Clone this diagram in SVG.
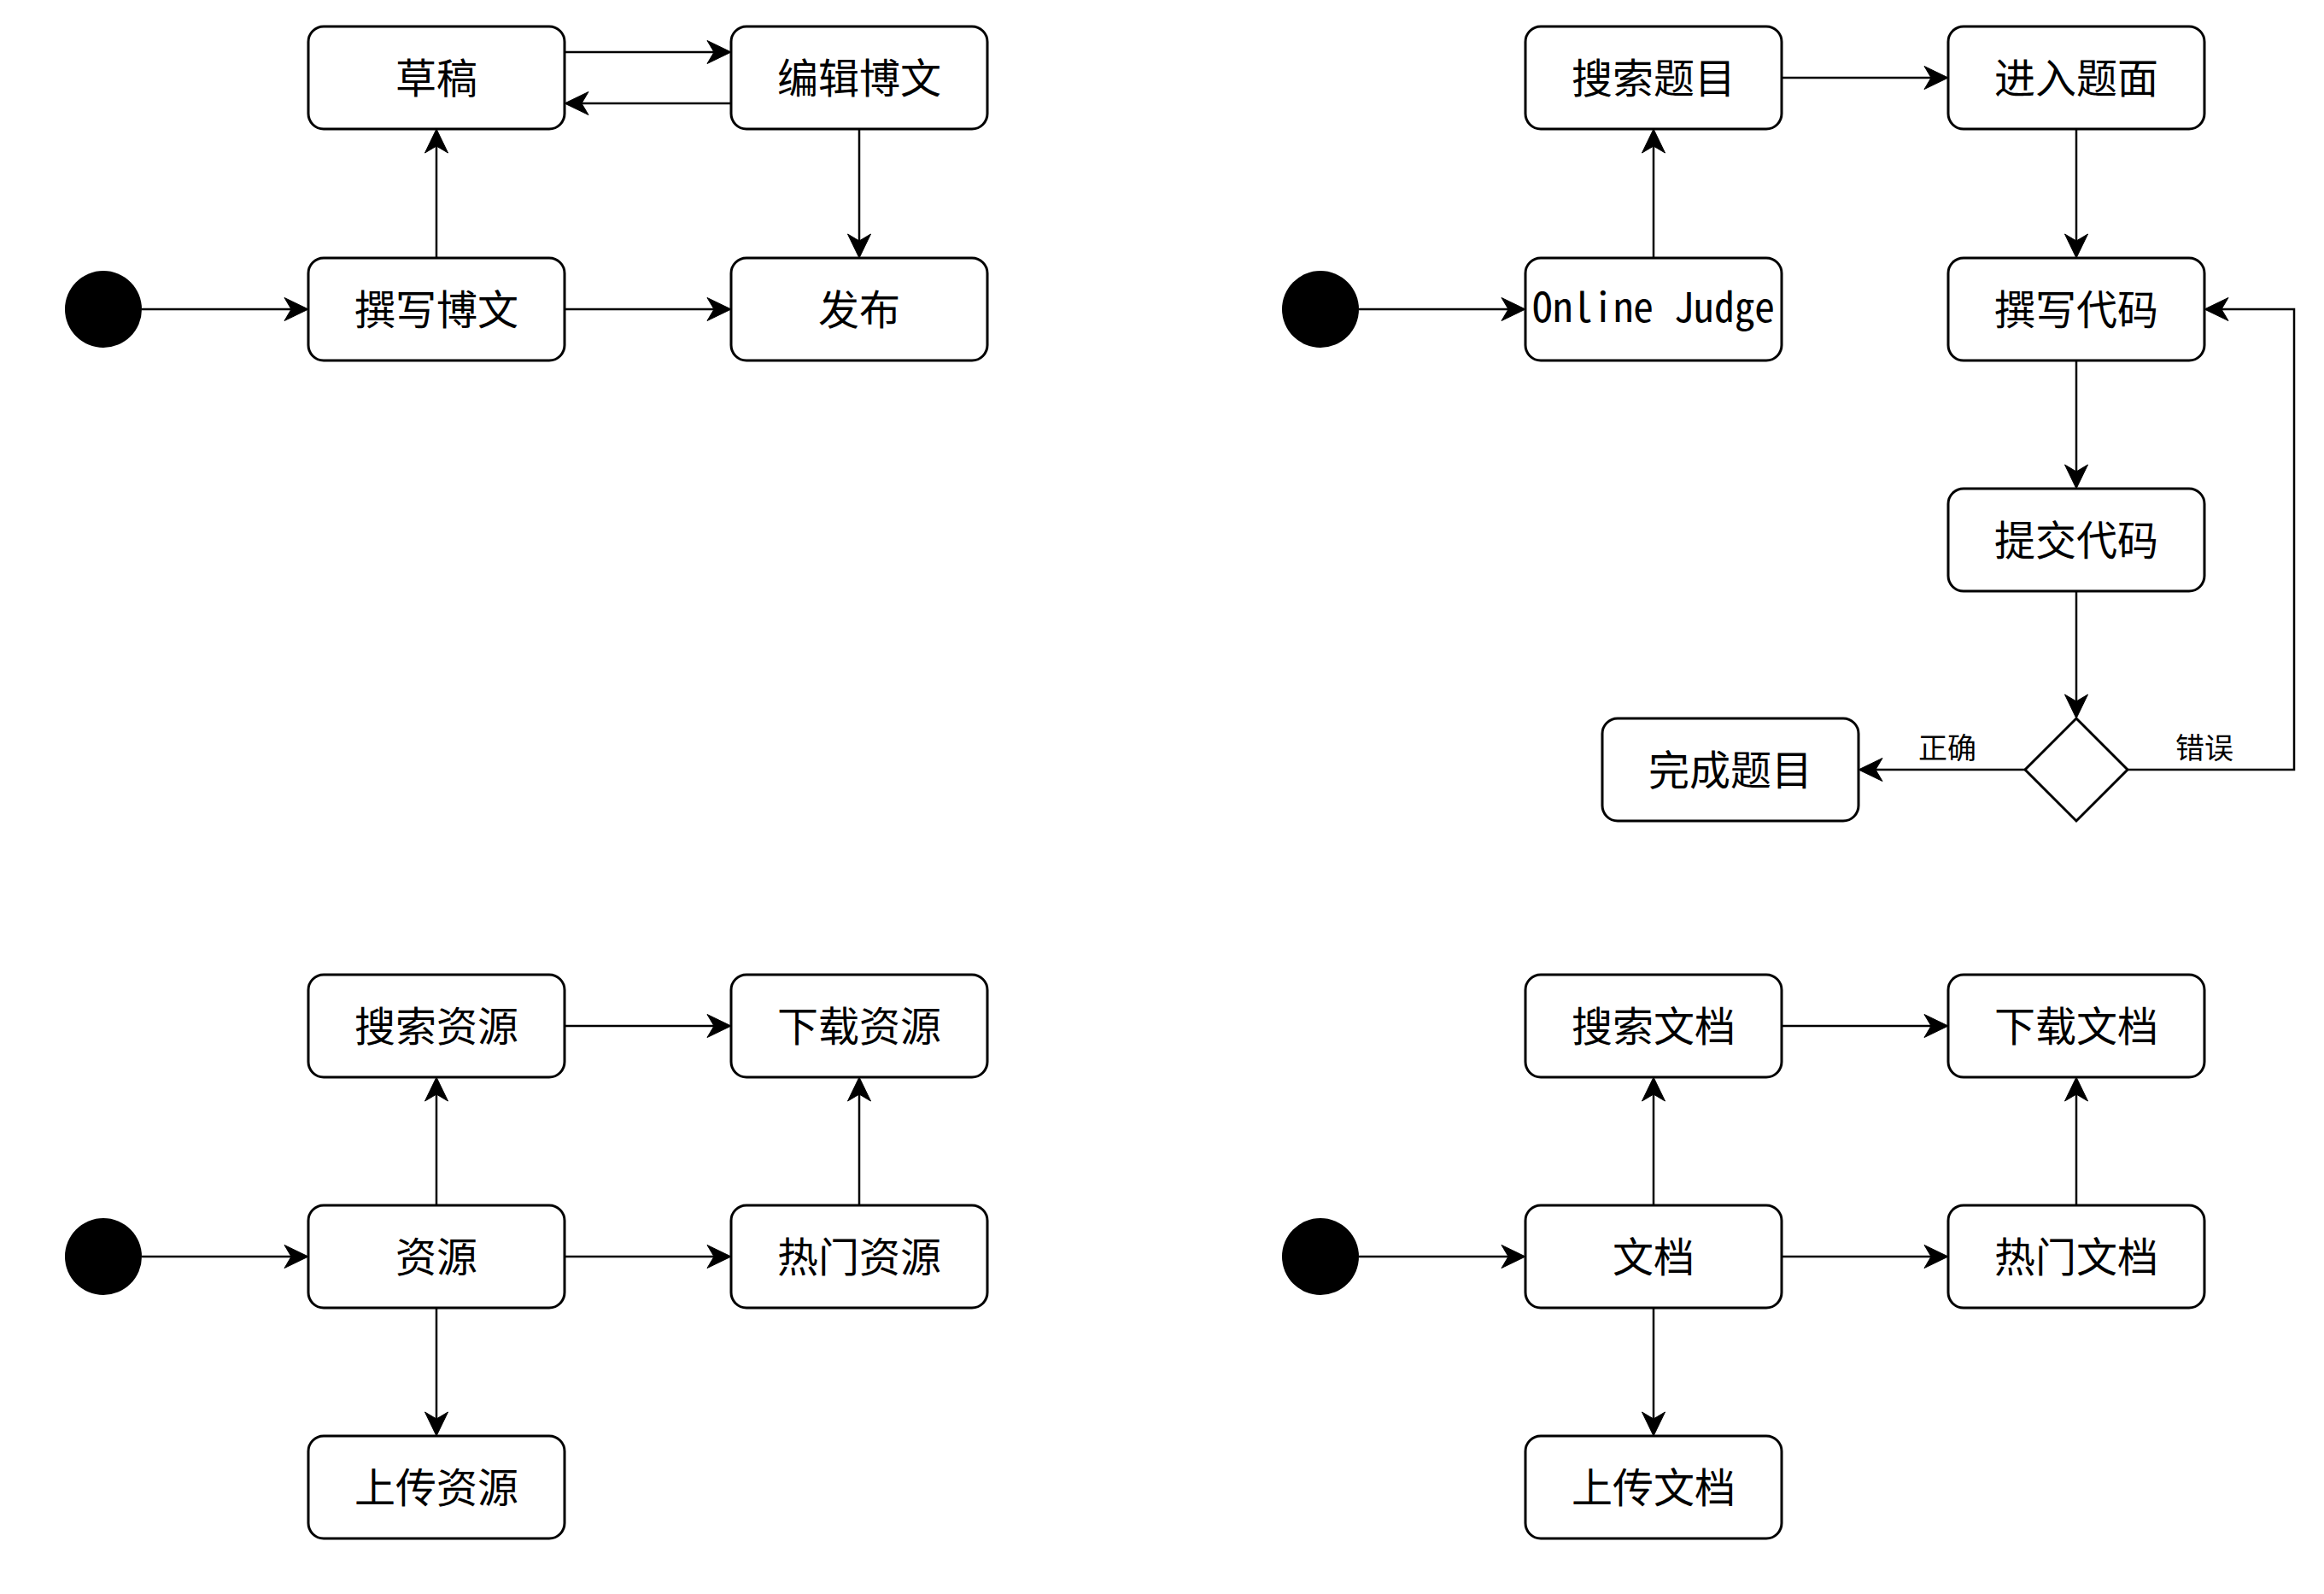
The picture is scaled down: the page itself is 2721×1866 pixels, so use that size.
<svg xmlns="http://www.w3.org/2000/svg" width="2721" height="1866" viewBox="0 0 2721 1866">
<style>
.n rect{fill:#fff;stroke:#000;stroke-width:3}
.n polygon{fill:#fff;stroke:#000;stroke-width:3}
.s{fill:#000}
.t{font-family:"Noto Sans CJK SC","Noto Sans",sans-serif;font-size:48px;text-anchor:middle;fill:#000}
.m{font-family:"Noto Sans Mono CJK SC","DejaVu Sans Mono","Liberation Mono",monospace;font-size:48px;text-anchor:middle;fill:#000}
.l{font-family:"Noto Sans CJK SC","Noto Sans",sans-serif;font-size:34px;text-anchor:middle;fill:#000}
#edges path{fill:none;stroke:#000;stroke-width:2.5;marker-end:url(#arr)}
</style>
<defs>
<marker id="arr" markerUnits="userSpaceOnUse" viewBox="-30 -15 32 30" markerWidth="32" markerHeight="30" refX="-10" refY="0" orient="auto">
<path d="M0,0 L-28,-13.5 L-20,0 L-28,13.5 Z" fill="#000" stroke="#000" stroke-width="1"/>
</marker>
</defs>
<rect width="2721" height="1866" fill="#fff"/>
<g id="edges">
<path d="M166,362 H351"/>
<path d="M511,302 V161"/>
<path d="M661,61 H846"/>
<path d="M856,121 H671"/>
<path d="M1006,151 V292"/>
<path d="M661,362 H846"/>
<path d="M1591,362 H1776"/>
<path d="M1936,302 V161"/>
<path d="M2086,91 H2271"/>
<path d="M2431,151 V292"/>
<path d="M2431,422 V562"/>
<path d="M2431,692 V831"/>
<path d="M2371,901 H2186"/>
<path d="M2491,901 H2686 V362 H2591"/>
<path d="M166,1471 H351"/>
<path d="M511,1411 V1271"/>
<path d="M511,1531 V1671"/>
<path d="M661,1201 H846"/>
<path d="M661,1471 H846"/>
<path d="M1006,1411 V1271"/>
<path d="M1591,1471 H1776"/>
<path d="M1936,1411 V1271"/>
<path d="M1936,1531 V1671"/>
<path d="M2086,1201 H2271"/>
<path d="M2086,1471 H2271"/>
<path d="M2431,1411 V1271"/>
<text class="l" x="2280" y="888">正确</text>
<text class="l" x="2581" y="888">错误</text>
</g>
<g id="start1" class="n"><circle class="s" cx="121" cy="362" r="45"/></g>
<g id="caogao" class="n"><rect x="361" y="31" width="300" height="120" rx="18"/><text class="t" x="511" y="109">草稿</text></g>
<g id="bianji" class="n"><rect x="856" y="31" width="300" height="120" rx="18"/><text class="t" x="1006" y="109">编辑博文</text></g>
<g id="zhuanxie" class="n"><rect x="361" y="302" width="300" height="120" rx="18"/><text class="t" x="511" y="380">撰写博文</text></g>
<g id="fabu" class="n"><rect x="856" y="302" width="300" height="120" rx="18"/><text class="t" x="1006" y="380">发布</text></g>
<g id="start2" class="n"><circle class="s" cx="1546" cy="362" r="45"/></g>
<g id="sousuotimu" class="n"><rect x="1786" y="31" width="300" height="120" rx="18"/><text class="t" x="1936" y="109">搜索题目</text></g>
<g id="jinru" class="n"><rect x="2281" y="31" width="300" height="120" rx="18"/><text class="t" x="2431" y="109">进入题面</text></g>
<g id="oj" class="n"><rect x="1786" y="302" width="300" height="120" rx="18"/><text class="m" x="1936" y="377" textLength="284" lengthAdjust="spacingAndGlyphs">Online Judge</text></g>
<g id="zhuanxiedaima" class="n"><rect x="2281" y="302" width="300" height="120" rx="18"/><text class="t" x="2431" y="380">撰写代码</text></g>
<g id="tijiao" class="n"><rect x="2281" y="572" width="300" height="120" rx="18"/><text class="t" x="2431" y="650">提交代码</text></g>
<g id="decision" class="n"><polygon points="2431,841 2491,901 2431,961 2371,901"/></g>
<g id="wancheng" class="n"><rect x="1876" y="841" width="300" height="120" rx="18"/><text class="t" x="2026" y="919">完成题目</text></g>
<g id="start3" class="n"><circle class="s" cx="121" cy="1471" r="45"/></g>
<g id="sousuoziyuan" class="n"><rect x="361" y="1141" width="300" height="120" rx="18"/><text class="t" x="511" y="1219">搜索资源</text></g>
<g id="xiazaiziyuan" class="n"><rect x="856" y="1141" width="300" height="120" rx="18"/><text class="t" x="1006" y="1219">下载资源</text></g>
<g id="ziyuan" class="n"><rect x="361" y="1411" width="300" height="120" rx="18"/><text class="t" x="511" y="1489">资源</text></g>
<g id="remenziyuan" class="n"><rect x="856" y="1411" width="300" height="120" rx="18"/><text class="t" x="1006" y="1489">热门资源</text></g>
<g id="shangchuanziyuan" class="n"><rect x="361" y="1681" width="300" height="120" rx="18"/><text class="t" x="511" y="1759">上传资源</text></g>
<g id="start4" class="n"><circle class="s" cx="1546" cy="1471" r="45"/></g>
<g id="sousuowendang" class="n"><rect x="1786" y="1141" width="300" height="120" rx="18"/><text class="t" x="1936" y="1219">搜索文档</text></g>
<g id="xiazaiwendang" class="n"><rect x="2281" y="1141" width="300" height="120" rx="18"/><text class="t" x="2431" y="1219">下载文档</text></g>
<g id="wendang" class="n"><rect x="1786" y="1411" width="300" height="120" rx="18"/><text class="t" x="1936" y="1489">文档</text></g>
<g id="remenwendang" class="n"><rect x="2281" y="1411" width="300" height="120" rx="18"/><text class="t" x="2431" y="1489">热门文档</text></g>
<g id="shangchuanwendang" class="n"><rect x="1786" y="1681" width="300" height="120" rx="18"/><text class="t" x="1936" y="1759">上传文档</text></g>
</svg>
